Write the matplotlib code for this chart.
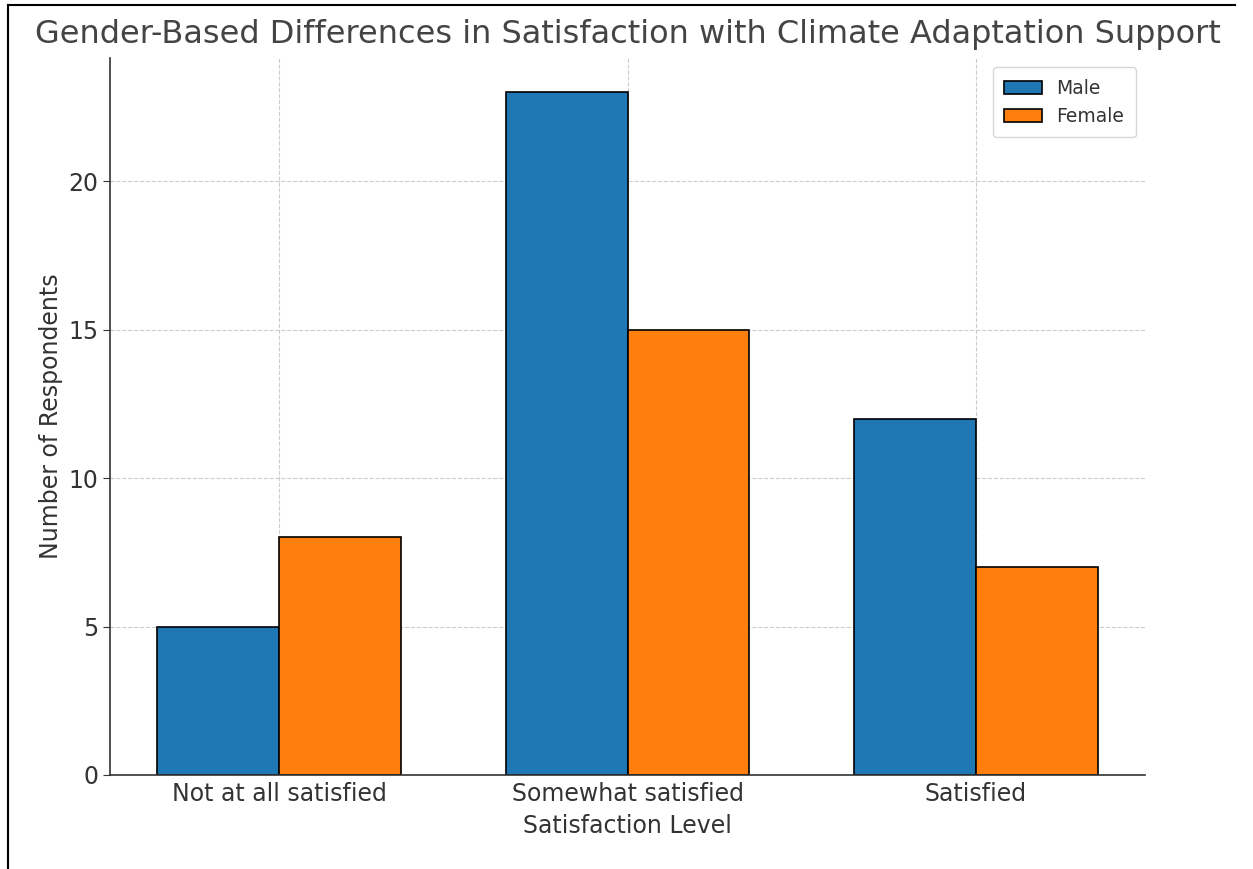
import numpy as np
import matplotlib.pyplot as plt
from matplotlib.lines import Line2D

levels = ["Not at all satisfied", "Somewhat satisfied", "Satisfied"]
male = [5, 23, 12]
female = [8, 15, 7]

txt = "#333333"
plt.rcParams['font.family'] = ['DejaVu Sans']

fig = plt.figure(figsize=(12.53, 8.69), dpi=100)
ax = fig.add_axes([110/1253, 1-775/869, (1145-110)/1253, (775-58)/869])

x = np.arange(len(levels))
w = 0.35
ax.bar(x - w/2, male, w, label="Male", color="#1f77b4", edgecolor="black", linewidth=1.2)
ax.bar(x + w/2, female, w, label="Female", color="#ff7f0e", edgecolor="black", linewidth=1.2)

ax.set_xticks(x)
ax.set_xticklabels(levels)
ax.set_yticks([0, 5, 10, 15, 20])
ax.tick_params(axis='x', length=0, labelsize=17, labelcolor=txt, pad=5)
ax.tick_params(axis='y', length=5, labelsize=17, labelcolor=txt, color=txt)
ax.grid(True, linestyle='--', color='#cccccc', linewidth=0.8)
ax.set_axisbelow(True)
for s in ['top', 'right']:
    ax.spines[s].set_visible(False)
for s in ['left', 'bottom']:
    ax.spines[s].set_color(txt)
    ax.spines[s].set_linewidth(1.2)

ax.set_xlabel("Satisfaction Level", fontsize=17, color=txt, labelpad=6)
ax.set_ylabel("Number of Respondents", fontsize=17, color=txt, labelpad=4)
fig.text(628/1253, 1-35/869, "Gender-Based Differences in Satisfaction with Climate Adaptation Support",
         ha='center', va='center', fontsize=23, color="#444444")

leg = ax.legend(loc='upper right', fontsize=13.5, frameon=True, borderpad=0.6)
for t in leg.get_texts():
    t.set_color(txt)

# screenshot border lines
fig.add_artist(Line2D([8/1253, 8/1253], [0, 1-5/869], transform=fig.transFigure, color='black', lw=1.5))
fig.add_artist(Line2D([8/1253, 1235/1253], [1-5/869, 1-5/869], transform=fig.transFigure, color='black', lw=1.5))

fig.savefig("out.png", dpi=100)
